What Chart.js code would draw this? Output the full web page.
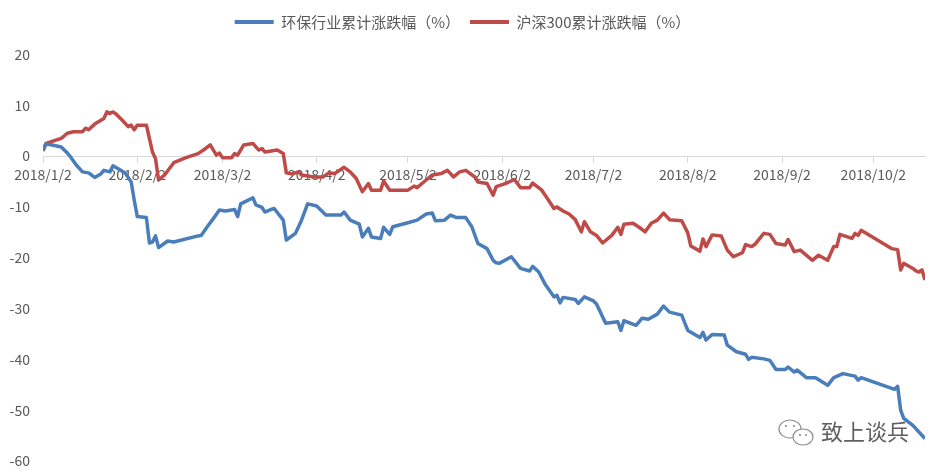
<!DOCTYPE html>
<html>
<head>
<meta charset="utf-8">
<script src="https://cdn.jsdelivr.net/npm/chart.js@4.4.1/dist/chart.umd.min.js"></script>
<style>
  html, body { margin: 0; padding: 0; background: #fff; }
</style>
</head>
<body>
<canvas id="chart" width="943" height="474"></canvas>
<script>
// 数据（2018年，日期为 月/日）
const xTickLabels = ["2018/1/2", "2018/2/2", "2018/3/2", "2018/4/2", "2018/5/2",
    "2018/6/2", "2018/7/2", "2018/8/2", "2018/9/2", "2018/10/2"];
const xEndDate = "10/19";

// 环保行业累计涨跌幅（%）
const hbDates = ["1/2", "1/3", "1/5", "1/8", "1/10", "1/11", "1/13", "1/15", "1/17", "1/19",
    "1/21", "1/22", "1/24", "1/25", "1/27", "1/29", "1/31", "2/1", "2/2", "2/5",
    "2/6", "2/7", "2/8", "2/9", "2/12", "2/14", "2/22", "2/23", "2/25", "2/27",
    "3/1", "3/3", "3/6", "3/7", "3/8", "3/10", "3/12", "3/13", "3/15", "3/16",
    "3/18", "3/19", "3/22", "3/23", "3/26", "3/28", "3/30", "4/2", "4/5", "4/10",
    "4/11", "4/13", "4/16", "4/17", "4/19", "4/20", "4/23", "4/24", "4/26", "4/27",
    "5/2", "5/5", "5/8", "5/10", "5/11", "5/14", "5/16", "5/18", "5/21", "5/23",
    "5/25", "5/28", "5/30", "5/31", "6/1", "6/5", "6/8", "6/11", "6/12", "6/14",
    "6/16", "6/19", "6/20", "6/21", "6/22", "6/26", "6/27", "6/29", "7/2", "7/3",
    "7/6", "7/10", "7/11", "7/12", "7/16", "7/18", "7/20", "7/23", "7/25", "7/27",
    "7/31", "8/2", "8/6", "8/7", "8/8", "8/10", "8/14", "8/15", "8/18", "8/21",
    "8/22", "8/23", "8/27", "8/29", "8/31", "9/3", "9/4", "9/6", "9/7", "9/10",
    "9/13", "9/17", "9/19", "9/22", "9/26", "9/27", "9/28", "10/9", "10/10", "10/11",
    "10/12", "10/15", "10/17", "10/19"];
const hbValues = [1.2, 2.4, 2.2, 1.8, 0.6, -0.1, -1.8, -3.1, -3.3, -4.2,
    -3.5, -2.8, -3.1, -1.9, -2.6, -3.3, -5.1, -8.7, -11.9, -12.1,
    -17.1, -16.9, -15.7, -18.0, -16.7, -16.9, -15.7, -15.6, -13.9, -12.3,
    -10.6, -10.8, -10.5, -11.9, -9.4, -8.8, -8.2, -9.6, -10.1, -11.0,
    -10.5, -10.3, -12.6, -16.5, -15.2, -12.6, -9.4, -9.8, -11.6, -11.6,
    -11.0, -12.6, -13.4, -15.9, -14.2, -15.9, -16.2, -14.0, -15.4, -13.9,
    -13.1, -12.6, -11.4, -11.2, -12.7, -12.6, -11.6, -12.1, -12.1, -13.9,
    -17.2, -18.2, -20.5, -21.0, -21.1, -19.8, -22.1, -22.6, -21.7, -22.8,
    -25.1, -27.7, -27.4, -28.9, -27.8, -28.2, -29.0, -27.7, -28.5, -29.1,
    -32.9, -32.6, -34.3, -32.4, -33.3, -31.9, -32.1, -31.1, -29.5, -30.7,
    -31.3, -34.3, -35.7, -34.7, -36.2, -35.1, -35.2, -37.2, -38.5, -39.0,
    -40.0, -39.6, -39.9, -40.2, -42.0, -42.0, -41.5, -42.5, -42.1, -43.6,
    -43.6, -45.1, -43.6, -42.8, -43.3, -44.1, -43.6, -45.9, -45.3, -50.0,
    -51.6, -53.0, -54.3, -55.6];

// 沪深300累计涨跌幅（%）
const hsDates = ["1/2", "1/3", "1/8", "1/10", "1/12", "1/15", "1/16", "1/17", "1/19", "1/22",
    "1/23", "1/24", "1/25", "1/26", "1/28", "1/30", "1/31", "2/1", "2/2", "2/5",
    "2/7", "2/8", "2/9", "2/11", "2/13", "2/14", "2/18", "2/22", "2/24", "2/26",
    "2/28", "3/1", "3/2", "3/5", "3/6", "3/7", "3/9", "3/12", "3/13", "3/14",
    "3/15", "3/16", "3/18", "3/20", "3/22", "3/23", "3/25", "3/27", "3/28", "4/1",
    "4/4", "4/6", "4/8", "4/11", "4/13", "4/15", "4/17", "4/19", "4/20", "4/23",
    "4/24", "4/26", "5/2", "5/4", "5/5", "5/8", "5/10", "5/13", "5/15", "5/17",
    "5/19", "5/21", "5/24", "5/25", "5/28", "5/30", "5/31", "6/3", "6/6", "6/8",
    "6/11", "6/12", "6/15", "6/17", "6/19", "6/20", "6/22", "6/24", "6/26", "6/28",
    "6/29", "7/1", "7/3", "7/5", "7/8", "7/10", "7/11", "7/12", "7/15", "7/17",
    "7/19", "7/21", "7/23", "7/25", "7/27", "7/31", "8/2", "8/3", "8/6", "8/7",
    "8/8", "8/10", "8/13", "8/15", "8/17", "8/20", "8/21", "8/23", "8/24", "8/27",
    "8/29", "8/31", "9/3", "9/4", "9/6", "9/8", "9/12", "9/14", "9/17", "9/19",
    "9/20", "9/21", "9/25", "9/26", "9/27", "9/28", "10/8", "10/10", "10/11", "10/12",
    "10/15", "10/16", "10/17", "10/18", "10/19"];
const hsValues = [1.0, 2.5, 3.5, 4.5, 4.8, 4.8, 5.5, 5.2, 6.3, 7.4,
    8.7, 8.4, 8.7, 8.3, 7.1, 5.8, 6.1, 5.2, 6.1, 6.1,
    0.8, -0.5, -4.7, -3.7, -2.1, -1.3, -0.3, 0.5, 1.3, 2.2,
    0.2, 0.6, -0.3, -0.3, 0.5, 0.2, 2.2, 2.5, 1.8, 1.2,
    1.5, 0.8, 1.0, 1.2, 0.5, -3.3, -3.5, -3.1, -3.7, -4.1,
    -4.1, -3.3, -3.4, -2.2, -3.1, -4.4, -7.0, -5.4, -6.7, -6.7,
    -4.9, -6.7, -6.7, -5.9, -6.2, -4.7, -3.7, -3.4, -2.8, -4.1,
    -3.1, -2.8, -4.1, -5.1, -5.4, -7.7, -6.0, -5.4, -4.6, -6.2,
    -6.2, -5.3, -6.7, -8.5, -10.3, -10.0, -10.8, -11.4, -12.5, -14.9,
    -12.9, -14.9, -15.6, -17.1, -15.6, -14.0, -15.4, -13.4, -13.2, -14.0,
    -14.9, -13.2, -12.6, -11.2, -12.5, -12.7, -15.1, -17.7, -18.7, -16.3,
    -17.8, -15.5, -15.7, -18.5, -19.8, -19.0, -17.4, -17.8, -17.4, -15.2,
    -15.4, -17.2, -17.5, -16.4, -18.8, -18.5, -20.5, -19.5, -20.5, -17.8,
    -17.8, -15.4, -16.2, -15.2, -15.6, -14.6, -18.2, -18.4, -22.4, -21.1,
    -22.1, -22.6, -22.8, -22.4, -24.4];

const BLUE = "#4A7EBB";
const RED = "#BE4B48";
const TEXT_COLOR = "#595959";
const FONT = "'Noto Sans CJK SC', 'Noto Sans', sans-serif";

// 日期 -> 距 2018/1/2 的天数（日期轴）
function dayOf(str) {
    const parts = str.split("/").map(Number);
    const md = parts.length === 3 ? parts.slice(1) : parts;
    return (Date.UTC(2018, md[0] - 1, md[1]) - Date.UTC(2018, 0, 2)) / 86400000;
}

function toPoints(dates, values) {
    return dates.map((d, i) => ({ x: dayOf(d), y: values[i] }));
}

const tickDays = xTickLabels.map(dayOf);

// 图例与绘图区之间留白
const legendGap = {
    id: "legendGap",
    beforeInit(chart) {
        const fit = chart.legend.fit;
        chart.legend.fit = function () {
            fit.bind(chart.legend)();
            this.height += 15;
        };
    }
};

// 右下角水印
const watermark = {
    id: "watermark",
    afterDraw(chart) {
        const ctx = chart.ctx;
        ctx.save();
        ctx.strokeStyle = "#8c8c8c";
        ctx.lineWidth = 1.2;
        ctx.fillStyle = "#fff";
        ctx.beginPath();
        ctx.ellipse(790, 429, 11, 9, 0, 0, Math.PI * 2);
        ctx.fill();
        ctx.stroke();
        ctx.beginPath();
        ctx.ellipse(803, 437, 10, 8, 0, 0, Math.PI * 2);
        ctx.fill();
        ctx.stroke();
        ctx.fillStyle = "#8c8c8c";
        [[786, 426], [794, 426], [800, 435], [806, 435]].forEach(([x, y]) => {
            ctx.beginPath();
            ctx.arc(x, y, 1.1, 0, Math.PI * 2);
            ctx.fill();
        });
        ctx.font = "22px " + FONT;
        ctx.fillStyle = "#5f5f5f";
        ctx.textBaseline = "middle";
        ctx.fillText("致上谈兵", 821, 432);
        ctx.restore();
    }
};

const ctx = document.getElementById("chart").getContext("2d");

new Chart(ctx, {
    type: "line",
    data: {
        datasets: [
            {
                label: "环保行业累计涨跌幅（%）",
                data: toPoints(hbDates, hbValues),
                borderColor: BLUE,
                backgroundColor: BLUE,
                borderWidth: 3.5,
                pointRadius: 0,
                tension: 0,
                borderJoinStyle: "round"
            },
            {
                label: "沪深300累计涨跌幅（%）",
                data: toPoints(hsDates, hsValues),
                borderColor: RED,
                backgroundColor: RED,
                borderWidth: 3.5,
                pointRadius: 0,
                tension: 0,
                borderJoinStyle: "round"
            }
        ]
    },
    options: {
        responsive: false,
        devicePixelRatio: 1,
        animation: false,
        layout: { padding: { top: 4.5, right: 18, bottom: 13, left: 0 } },
        plugins: {
            legend: {
                position: "top",
                labels: {
                    boxWidth: 39,
                    boxHeight: 4,
                    padding: 10,
                    color: TEXT_COLOR,
                    font: { family: FONT, size: 15 },
                    generateLabels(chart) {
                        return Chart.defaults.plugins.legend.labels.generateLabels(chart)
                            .map((item) => ({ ...item, lineWidth: 0 }));
                    }
                }
            },
            tooltip: { enabled: false }
        },
        scales: {
            x: {
                type: "linear",
                position: { y: 0 },
                min: 0,
                max: dayOf(xEndDate),
                afterBuildTicks: (scale) => {
                    scale.ticks = tickDays.map((v) => ({ value: v }));
                },
                ticks: {
                    autoSkip: false,
                    maxRotation: 0,
                    padding: 4,
                    color: TEXT_COLOR,
                    font: { family: FONT, size: 14 },
                    callback: (value, index) => xTickLabels[index]
                },
                grid: {
                    drawOnChartArea: false,
                    drawTicks: true,
                    tickLength: 6,
                    color: "#d9d9d9"
                },
                border: { color: "#d9d9d9", width: 1 }
            },
            y: {
                min: -60,
                max: 20,
                afterFit: (scale) => {
                    scale.width = 43;
                    scale.paddingTop = 0;
                    scale.paddingBottom = 0;
                },
                ticks: {
                    stepSize: 10,
                    padding: 13,
                    color: TEXT_COLOR,
                    font: { family: FONT, size: 14 }
                },
                grid: { display: false, drawTicks: false },
                border: { display: false }
            }
        }
    },
    plugins: [legendGap, watermark]
});
</script>
</body>
</html>
